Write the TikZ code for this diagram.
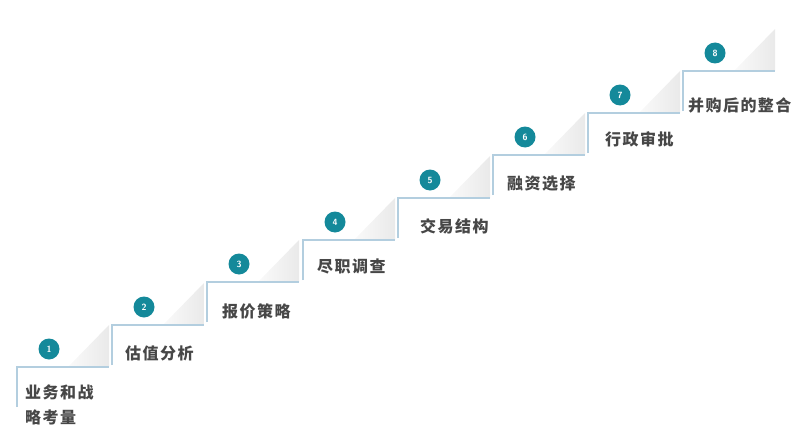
\documentclass[tikz,border=0pt]{standalone}
\usepackage{fontspec}
\newfontfamily\cjk[LetterSpace=9]{Noto Sans CJK SC}
\definecolor{stepline}{HTML}{B3CEDF}
\definecolor{teal}{HTML}{14899A}
\definecolor{txt}{HTML}{474747}
\begin{document}
\begin{tikzpicture}[x=1pt,y=-1pt,
  stepline/.style={draw=stepline,line width=1.6pt},
  numdot/.style={circle,fill=teal,minimum size=21pt,inner sep=0pt,text=white,font=\sffamily\bfseries\fontsize{9}{9}\selectfont},
  label/.style={anchor=west,text=txt,font=\cjk\bfseries\fontsize{16}{25}\selectfont,inner sep=0pt,align=left}]
\useasboundingbox (0,0) rectangle (808,444);
\foreach \k/\xl/\yl/\tx/\ty/\t in {
  1/17/367/25/405/{业务和战\\略考量},
  2/112/325/125/353/{估值分析},
  3/207/282/222/311/{报价策略},
  4/303/240/317/266/{尽职调查},
  5/398/198/420/226/{交易结构},
  6/493/155/507/184/{融资选择},
  7/588/113/605/139/{行政审批},
  8/683/71/688/105/{并购后的整合}} {
  \pgfmathsetmacro\xr{\xl+92}
  \shade[left color=gray!4,right color=gray!17] (\xr-41,\yl) -- (\xr,\yl) -- (\xr,\yl-42) -- cycle;
  \draw[stepline] (\xl,\yl+40) -- (\xl,\yl) -- (\xr,\yl);
  \node[numdot] (n\k) at (\xl+32,\yl-18) {\k};
  \node[label] (t\k) at (\tx,\ty) {\t};
}
\end{tikzpicture}
\end{document}
